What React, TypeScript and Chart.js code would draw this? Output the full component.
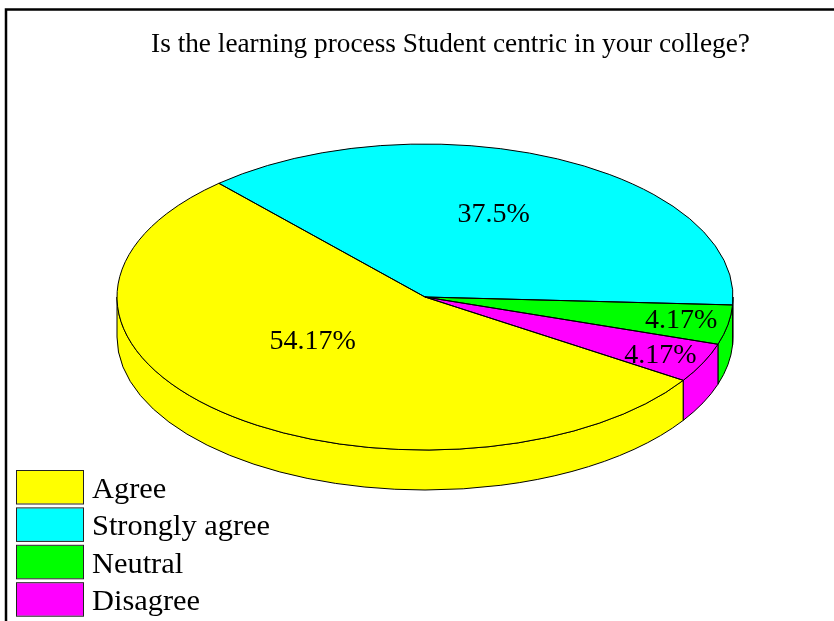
import React, { useEffect, useRef } from "react";
import { Chart, registerables } from "chart.js";

Chart.register(...registerables);

const categories = ["Agree", "Strongly agree", "Neutral", "Disagree"];
const values = [54.17, 37.5, 4.17, 4.17];
const sliceColors = ["#ffff00", "#00ffff", "#00ff00", "#ff00ff"];
const chartTitle = "Is the learning process Student centric in your college?";

const SERIF = "'Liberation Serif', 'Times New Roman', serif";
const CX = 425;
const CY = 297;
const SQUASH = 153 / 308;
const DEPTH = 40;
const TAU = Math.PI * 2;

// radial fraction and angular nudge (degrees) of each percentage label
const labelRadius = [0.46, 0.59, 0.844, 0.85];
const labelNudge = [12, -3.3, -0.8, 0.5];

const pie3d = {
  id: "pie3d",
  beforeDraw(chart: any) {
    const { ctx, width, height } = chart;
    ctx.save();
    ctx.fillStyle = "#ffffff";
    ctx.fillRect(0, 0, width, height);
    ctx.strokeStyle = "#000000";
    ctx.lineWidth = 2.5;
    ctx.beginPath();
    ctx.moveTo(6, height);
    ctx.lineTo(6, 9.5);
    ctx.lineTo(width, 9.5);
    ctx.stroke();
    ctx.restore();
  },
  beforeDatasetsDraw(chart: any) {
    const { ctx } = chart;
    const arcs = chart.getDatasetMeta(0).data;
    const ry = (r: number) => r * SQUASH;
    ctx.save();
    ctx.lineWidth = 1;
    ctx.strokeStyle = "#000000";
    arcs.forEach((arc: any, i: number) => {
      const r = arc.outerRadius;
      for (let k = -1; k <= 2; k++) {
        const a = Math.max(arc.startAngle, k * TAU);
        const b = Math.min(arc.endAngle, k * TAU + Math.PI);
        if (b <= a) continue;
        ctx.beginPath();
        ctx.ellipse(CX, CY, r, ry(r), 0, a, b);
        ctx.ellipse(CX, CY + DEPTH, r, ry(r), 0, b, a, true);
        ctx.closePath();
        ctx.fillStyle = sliceColors[i];
        ctx.fill();
        ctx.stroke();
      }
    });
    ctx.restore();
    // the library's arcs are drawn flattened onto the ellipse
    const first = arcs[0];
    ctx.save();
    ctx.translate(CX, CY);
    ctx.scale(1, SQUASH);
    ctx.translate(-first.x, -first.y);
  },
  afterDatasetsDraw(chart: any) {
    const { ctx } = chart;
    ctx.restore();
    const arcs = chart.getDatasetMeta(0).data;
    ctx.save();
    ctx.lineWidth = 1;
    ctx.strokeStyle = "#000000";
    arcs.forEach((arc: any) => {
      const r = arc.outerRadius;
      ctx.beginPath();
      ctx.moveTo(CX, CY);
      ctx.ellipse(CX, CY, r, r * SQUASH, 0, arc.startAngle, arc.endAngle);
      ctx.closePath();
      ctx.stroke();
    });
    ctx.fillStyle = "#000000";
    ctx.font = `28px ${SERIF}`;
    ctx.textAlign = "center";
    ctx.textBaseline = "middle";
    arcs.forEach((arc: any, i: number) => {
      const mid = (arc.startAngle + arc.endAngle) / 2 + (labelNudge[i] * Math.PI) / 180;
      const rr = arc.outerRadius * labelRadius[i];
      ctx.fillText(`${values[i]}%`, CX + rr * Math.cos(mid), CY + 1.5 + rr * SQUASH * Math.sin(mid));
    });
    // legend
    ctx.font = `30.4px ${SERIF}`;
    ctx.textAlign = "left";
    ctx.textBaseline = "alphabetic";
    categories.forEach((name, i) => {
      const y = 471 + i * 37.4;
      ctx.fillStyle = sliceColors[i];
      ctx.fillRect(17, y, 66, 32.5);
      ctx.strokeStyle = "#222222";
      ctx.strokeRect(16.5, y - 0.5, 67, 33.5);
      ctx.fillStyle = "#000000";
      ctx.fillText(name, 92, y + 27);
    });
    ctx.restore();
  },
};

export default function App() {
  const ref = useRef<HTMLCanvasElement | null>(null);
  useEffect(() => {
    const chart = new Chart(ref.current as HTMLCanvasElement, {
      type: "pie",
      data: {
        labels: categories,
        datasets: [{ data: values, backgroundColor: sliceColors, borderWidth: 0 }],
      },
      options: {
        responsive: false,
        animation: false,
        rotation: 123,
        radius: 308,
        layout: { padding: { left: 67 } },
        plugins: {
          legend: { display: false },
          tooltip: { enabled: false },
          title: {
            display: true,
            text: chartTitle,
            color: "#000000",
            font: { family: SERIF, size: 27.3, weight: "normal" },
            padding: { top: 28, bottom: 0 },
          },
        },
      },
      plugins: [pie3d],
    } as any);
    return () => chart.destroy();
  }, []);
  return (
    <div style={{ position: "absolute", left: 0, top: 0 }}>
      <canvas ref={ref} width={834} height={621} style={{ display: "block" }} />
    </div>
  );
}
